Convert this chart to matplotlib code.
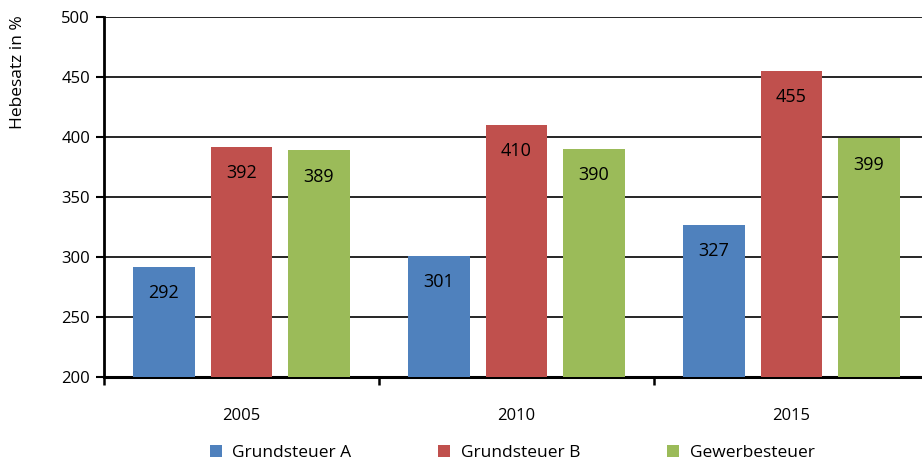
import numpy as np
import matplotlib.pyplot as plt
from matplotlib.ticker import FixedLocator

plt.rcParams['font.family'] = ['Open Sans', 'DejaVu Sans']

# data
years = ['2005', '2010', '2015']
grundsteuer_a = [292, 301, 327]
grundsteuer_b = [392, 410, 455]
gewerbesteuer = [389, 390, 399]
series_names = ['Grundsteuer A', 'Grundsteuer B', 'Gewerbesteuer']
colors = ['#4F81BD', '#C0504D', '#9BBB59']

fig = plt.figure(figsize=(9.22, 4.65), dpi=100)
ax = fig.add_axes([104/922, 1-377/465, 825/922, 360/465])

x = np.arange(len(years))
offs = [-0.282, 0, 0.282]
width = 0.225
bars = []
for vals, off, col, name in zip([grundsteuer_a, grundsteuer_b, gewerbesteuer], offs, colors, series_names):
    b = ax.bar(x + off, vals, width, bottom=0, color=col, label=name, zorder=3)
    bars.append(b)
    for xi, v in zip(x, vals):
        ax.annotate(str(v), (xi + off, v), xytext=(0, -19), textcoords='offset points',
                    ha='center', va='center', fontsize=13, color='black', zorder=4)

ax.set_ylim(200, 500)
ax.set_xlim(-0.5, 2.5)
ax.set_yticks(range(200, 501, 50))
ax.yaxis.grid(True, color='black', linewidth=1.2, zorder=0)
ax.set_axisbelow(True)

ax.set_xticks(x)
ax.set_xticklabels(years, fontsize=12)
ax.tick_params(axis='x', which='major', length=0, pad=22)
ax.xaxis.set_minor_locator(FixedLocator([-0.5, 0.5, 1.5, 2.5]))
ax.tick_params(axis='x', which='minor', length=6, width=1.8, direction='out')
ax.tick_params(axis='y', length=6, width=1.5, labelsize=12, pad=4)

for s in ['top', 'right']:
    ax.spines[s].set_visible(False)
ax.spines['left'].set_linewidth(2)
ax.spines['bottom'].set_linewidth(2.2)

fig.text(18/922, 1-72/465, 'Hebesatz in %', rotation=90, ha='center', va='center', fontsize=12.5)

fig.legend(handles=bars, labels=series_names, loc='center', bbox_to_anchor=(512/922, 1-453/465),
           ncol=3, frameon=False, fontsize=12.5, handlelength=0.7, handleheight=0.7,
           handletextpad=0.6, columnspacing=5.0)

fig.savefig('out.png', dpi=100)
